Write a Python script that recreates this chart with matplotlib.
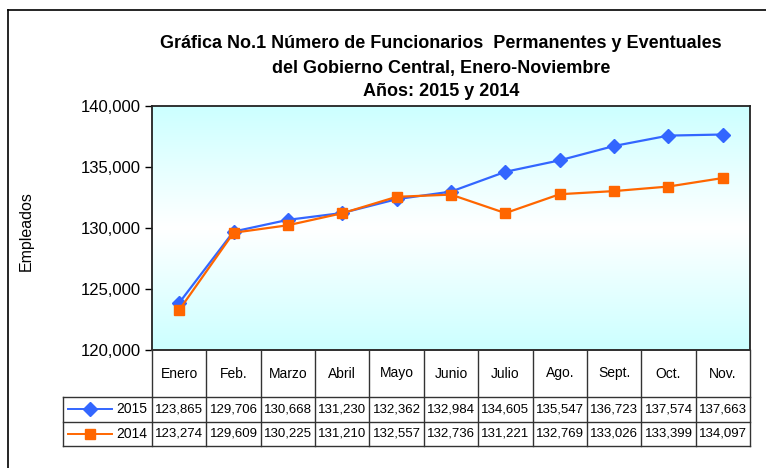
import matplotlib.pyplot as plt
import numpy as np
from matplotlib.colors import LinearSegmentedColormap
from matplotlib.lines import Line2D

plt.rcParams['font.family'] = ['Liberation Sans', 'DejaVu Sans']

# datos de la grafica
meses = ['Enero', 'Feb.', 'Marzo', 'Abril', 'Mayo', 'Junio', 'Julio',
         'Ago.', 'Sept.', 'Oct.', 'Nov.']
anio_2015 = [123865, 129706, 130668, 131230, 132362, 132984, 134605,
             135547, 136723, 137574, 137663]
anio_2014 = [123274, 129609, 130225, 131210, 132557, 132736, 131221,
             132769, 133026, 133399, 134097]
series = [('2015', anio_2015, '#3366FF', 'D'), ('2014', anio_2014, '#FF6600', 's')]
y_ticks = [120000, 125000, 130000, 135000, 140000]

W, H = 766, 468
fig = plt.figure(figsize=(W / 100, H / 100), dpi=100)


def caja(x0, y0, x1, y1):
    # convierte pixeles (arriba-izquierda) a coordenadas de figura
    return [x0 / W, 1 - y1 / H, (x1 - x0) / W, (y1 - y0) / H]


# marco exterior
fig.add_artist(Line2D([8 / W, 8 / W], [1 - 10 / H, 0], color='black', lw=1.2))
fig.add_artist(Line2D([8 / W, 1], [1 - 10 / H, 1 - 10 / H], color='black', lw=1.2))

ax = fig.add_axes(caja(152, 106, 750, 350))
x = np.arange(len(meses))

# fondo degradado cian-blanco-cian
cmap = LinearSegmentedColormap.from_list('fondo', ['#CCFFFF', '#FFFFFF', '#CCFFFF'])
grad = np.linspace(0, 1, 256).reshape(-1, 1)
ax.imshow(grad, extent=[-0.5, len(meses) - 0.5, 120000, 140000], aspect='auto',
          cmap=cmap, zorder=0, origin='lower')

for nombre, valores, color, marca in series:
    ax.plot(x, valores, color=color, marker=marca, markersize=7, lw=1.6, zorder=3)

ax.set_xlim(-0.5, len(meses) - 0.5)
ax.set_ylim(120000, 140000)
ax.set_yticks(y_ticks)
ax.set_yticklabels([f'{v:,}' for v in y_ticks], fontsize=12)
ax.tick_params(axis='y', direction='out', length=5, width=1, pad=3)
ax.set_xticks([])
for lado in ['left', 'top', 'right', 'bottom']:
    ax.spines[lado].set_linewidth(1.3)
    ax.spines[lado].set_color('#222222')
fig.text(26 / W, 1 - 231 / H, 'Empleados', rotation=90, ha='center', va='center',
         fontsize=11.5)

# tabla de datos
axt = fig.add_axes(caja(152, 350, 750, 446), sharex=ax)
axt.set_ylim(446, 350)
axt.axis('off')
col_izq = -0.5 - (152 - 63) / (598 / len(meses))
fin = len(meses) - 0.5
c_linea = '#333333'
# lineas horizontales
axt.plot([-0.5, fin], [350, 350], color=c_linea, lw=1.2, clip_on=False)
for yy in [397, 421.5, 446]:
    axt.plot([col_izq, fin], [yy, yy], color=c_linea, lw=1, clip_on=False)
# lineas verticales
for i in range(len(meses) + 1):
    axt.plot([i - 0.5, i - 0.5], [350, 446], color=c_linea, lw=1, clip_on=False)
axt.plot([col_izq, col_izq], [397, 446], color=c_linea, lw=1, clip_on=False)

for i, mes in enumerate(meses):
    axt.text(i, 373.5, mes, ha='center', va='center', fontsize=10)

filas = [409.25, 433.75]
for (nombre, valores, color, marca), yy in zip(series, filas):
    for i, v in enumerate(valores):
        axt.text(i, yy, f'{v:,}', ha='center', va='center', fontsize=9.5)
    axt.plot([col_izq + 0.1, col_izq + 0.9], [yy, yy], color=color, lw=1.4, clip_on=False)
    axt.plot([col_izq + 0.5], [yy], color=color, marker=marca, markersize=7, clip_on=False)
    axt.text(-0.58, yy, nombre, ha='right', va='center', fontsize=10)

# titulo
titulo = ['Gráfica No.1 Número de Funcionarios  Permanentes y Eventuales',
          'del Gobierno Central, Enero-Noviembre',
          'Años: 2015 y 2014']
for linea, yy in zip(titulo, [44, 68, 91]):
    fig.text(441 / W, 1 - yy / H, linea, ha='center', va='center',
             fontsize=13, fontweight='bold')

fig.savefig('out.png', dpi=100)
